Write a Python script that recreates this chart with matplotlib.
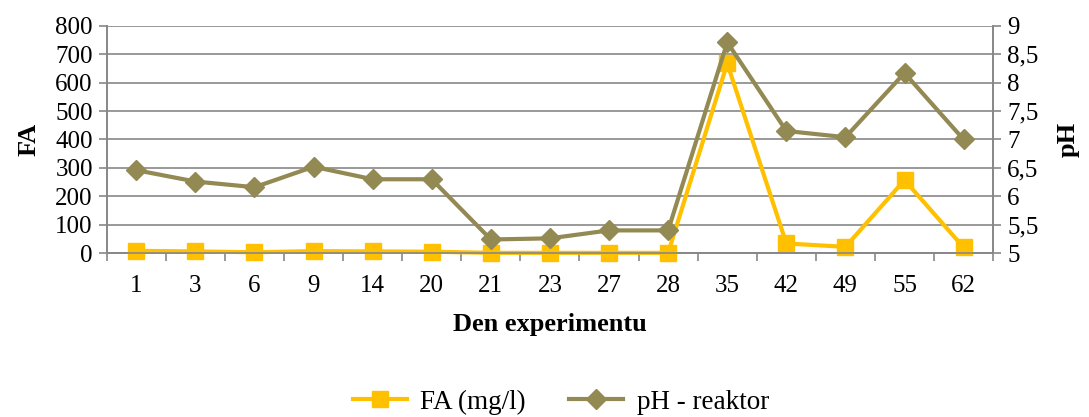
import matplotlib
matplotlib.use("Agg")
import matplotlib.pyplot as plt

plt.rcParams['font.family'] = ['Liberation Serif', 'DejaVu Serif']

days = ["1", "3", "6", "9", "14", "20", "21", "23", "27", "28", "35", "42", "49", "55", "62"]
fa = [8, 6, 3, 7, 6, 5, 1, 1, 1, 1, 668, 34, 22, 257, 20]
ph = [6.46, 6.26, 6.16, 6.52, 6.3, 6.3, 5.24, 5.26, 5.4, 5.4, 8.71, 7.15, 7.04, 8.17, 7.0]

fa_color = "#FFC000"
ph_color = "#938953"
grid_color = "#878787"

fig = plt.figure(figsize=(10.89, 4.17), dpi=100)
ax = fig.add_axes([0.098, 0.393, 0.814, 0.545])
ax2 = ax.twinx()

x = list(range(len(days)))

ax.plot(x, fa, color=fa_color, lw=3, marker="s", ms=12, label="FA (mg/l)",
        zorder=3, clip_on=False)
ax2.plot(x, ph, color=ph_color, lw=3, marker="D", ms=10, label="pH - reaktor",
         zorder=3, clip_on=False)

ax.set_xlim(-0.5, len(days) - 0.5)
ax.set_ylim(0, 800)
ax.set_yticks(range(0, 801, 100))
ax2.set_ylim(5, 9)
ax2.set_yticks([5, 5.5, 6, 6.5, 7, 7.5, 8, 8.5, 9])
ax2.set_yticklabels(["5", "5,5", "6", "6,5", "7", "7,5", "8", "8,5", "9"])

ax.set_xticks(x)
ax.set_xticklabels(days)
ax.set_xticks([i + 0.5 for i in range(-1, len(days))], minor=True)
ax.tick_params(axis="x", which="major", length=0, labelsize=18, pad=16)
ax.tick_params(axis="x", which="minor", length=6, color=grid_color, width=1.2)
ax.tick_params(axis="y", length=6, color=grid_color, width=1.2, labelsize=18, pad=4)
ax2.tick_params(axis="y", length=6, color=grid_color, width=1.2, labelsize=18, pad=4)

ax.grid(axis="y", color=grid_color, lw=1.2)
ax.set_axisbelow(True)
for a in (ax, ax2):
    a.spines["top"].set_visible(False)
    for s in ("left", "right", "bottom"):
        a.spines[s].set_color(grid_color)
        a.spines[s].set_linewidth(1.2)

ax.set_xlabel("Den experimentu", fontsize=19, fontweight="bold", labelpad=11)
ax.set_ylabel("FA", fontsize=19, fontweight="bold", labelpad=11)
ax2.set_ylabel("pH", fontsize=19, fontweight="bold", labelpad=13)

h1, l1 = ax.get_legend_handles_labels()
h2, l2 = ax2.get_legend_handles_labels()
fig.legend(h1 + h2, l1 + l2, loc="center", bbox_to_anchor=(0.515, 0.035), ncol=2,
           frameon=False, fontsize=19.5, handlelength=2.0, handletextpad=0.5,
           columnspacing=1.6)

fig.savefig("out.png", dpi=100)
